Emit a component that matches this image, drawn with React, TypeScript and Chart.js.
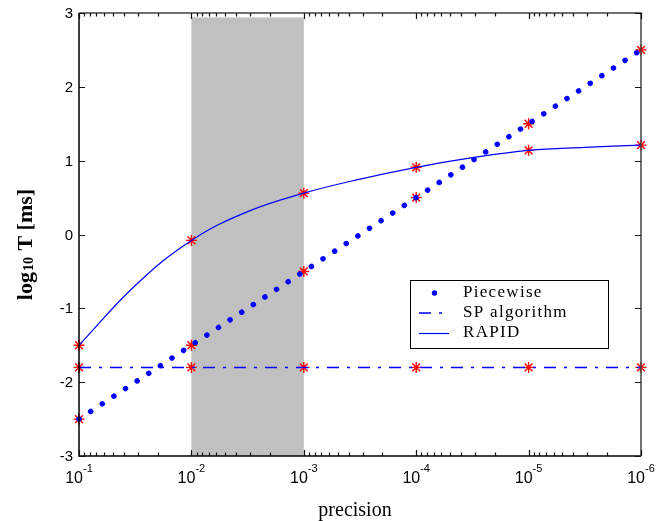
import React, { useEffect, useRef } from "react";
import { Chart, registerables } from "chart.js";
Chart.register(...registerables);

// precision values (x, reversed log axis)
const precision = [1e-1, 1e-2, 1e-3, 1e-4, 1e-5, 1e-6];
const piecewise = [-2.5, -1.5, -0.5, 0.5, 1.5, 2.5];
const spAlgorithm = [-1.8, -1.8, -1.8, -1.8, -1.8, -1.8];
const rapidMarks = [-1.5, -0.08, 0.56, 0.91, 1.14, 1.21];
// RAPID curve
const rapidCurveX = [0.1, 0.0316, 0.01, 0.00316, 0.001, 0.000316, 0.0001, 0.0000316, 0.00001, 0.00000316, 0.000001];
const rapidCurveY = [-1.5, -0.69, -0.08, 0.31, 0.56, 0.75, 0.91, 1.04, 1.14, 1.18, 1.21];

const yTicks = [3, 2, 1, 0, -1, -2, -3];
const xTickExponents = [-1, -2, -3, -4, -5, -6];
const shadeFrom = 1e-2;
const shadeTo = 1e-3;
const shadeTop = 2.94;
const legendLabels = ["Piecewise", "SP algorithm", "RAPID"];

const BLUE = "#0000ff";
const RED = "#ff0000";

const toPts = (xs: number[], ys: number[]) => xs.map((x, i) => ({ x, y: ys[i] }));

export default function App() {
  const ref = useRef<HTMLCanvasElement | null>(null);
  useEffect(() => {
    document.body.style.margin = "0";
    const canvas = ref.current!;
    const decor = {
      id: "decor",
      beforeDatasetsDraw(chart: any) {
        const { ctx, scales } = chart;
        const xs = scales.x, ys = scales.y;
        const x1 = xs.getPixelForValue(shadeFrom);
        const x2 = xs.getPixelForValue(shadeTo);
        const y1 = ys.getPixelForValue(shadeTop);
        const y2 = ys.getPixelForValue(-3);
        ctx.save();
        ctx.fillStyle = "#c0c0c0";
        ctx.fillRect(x1, y1, x2 - x1, y2 - y1);
        ctx.restore();
      },
      afterDraw(chart: any) {
        const { ctx, scales, chartArea: a } = chart;
        const xs = scales.x, ys = scales.y;
        ctx.save();
        // frame
        ctx.lineWidth = 1.5;
        ctx.strokeStyle = "#000";
        ctx.beginPath();
        ctx.moveTo(a.left, a.top);
        ctx.lineTo(a.left, a.bottom);
        ctx.lineTo(a.right, a.bottom);
        ctx.stroke();
        ctx.strokeStyle = "#444";
        ctx.beginPath();
        ctx.moveTo(a.left, a.top);
        ctx.lineTo(a.right, a.top);
        ctx.lineTo(a.right, a.bottom);
        ctx.stroke();
        // ticks
        ctx.lineWidth = 1.2;
        ctx.strokeStyle = "#111";
        ctx.beginPath();
        for (const t of yTicks) {
          const py = Math.round(ys.getPixelForValue(t)) + 0.5;
          ctx.moveTo(a.left, py); ctx.lineTo(a.left + 6, py);
          ctx.moveTo(a.right, py); ctx.lineTo(a.right - 6, py);
        }
        for (const e of xTickExponents) {
          const px = Math.round(xs.getPixelForValue(Math.pow(10, e))) + 0.5;
          ctx.moveTo(px, a.bottom); ctx.lineTo(px, a.bottom - 6);
          ctx.moveTo(px, a.top); ctx.lineTo(px, a.top + 6);
          if (e < -1) {
            for (let m = 2; m <= 9; m++) {
              const mx = Math.round(xs.getPixelForValue(m * Math.pow(10, e))) + 0.5;
              ctx.moveTo(mx, a.bottom); ctx.lineTo(mx, a.bottom - 3.5);
              ctx.moveTo(mx, a.top); ctx.lineTo(mx, a.top + 3.5);
            }
          }
        }
        ctx.stroke();
        // y tick labels
        ctx.fillStyle = "#000";
        ctx.font = "15px 'Liberation Sans', Arial, sans-serif";
        ctx.textAlign = "right";
        ctx.textBaseline = "middle";
        for (const t of yTicks) {
          ctx.fillText(String(t), a.left - 6, ys.getPixelForValue(t) + 1);
        }
        // x tick labels 10^e
        ctx.textAlign = "left";
        ctx.textBaseline = "alphabetic";
        for (const e of xTickExponents) {
          const px = xs.getPixelForValue(Math.pow(10, e));
          ctx.font = "16px 'Liberation Sans', Arial, sans-serif";
          const w1 = ctx.measureText("10").width;
          ctx.font = "11px 'Liberation Sans', Arial, sans-serif";
          const w2 = ctx.measureText(String(e)).width;
          const sx = px - (w1 + w2) / 2;
          ctx.font = "16px 'Liberation Sans', Arial, sans-serif";
          ctx.fillText("10", sx, 483);
          ctx.font = "11px 'Liberation Sans', Arial, sans-serif";
          ctx.fillText(String(e), sx + w1, 472);
        }
        // x axis title
        ctx.font = "20px 'Liberation Serif', 'Times New Roman', serif";
        ctx.textAlign = "center";
        ctx.fillText("precision", 355, 516);
        // y axis title
        ctx.save();
        ctx.translate(32, 244.5);
        ctx.rotate(-Math.PI / 2);
        ctx.textAlign = "left";
        const big = "bold 22px 'Liberation Serif', 'Times New Roman', serif";
        const small = "bold 14px 'Liberation Serif', 'Times New Roman', serif";
        ctx.font = big;
        const wLog = ctx.measureText("log").width;
        const wRest = ctx.measureText(" T [ms]").width;
        ctx.font = small;
        const wSub = ctx.measureText("10").width;
        const total = wLog + wSub + 2 + wRest;
        let u = -total / 2;
        ctx.font = big;
        ctx.fillText("log", u, 0);
        u += wLog + 1;
        ctx.font = small;
        ctx.fillText("10", u, 1);
        u += wSub + 1;
        ctx.font = big;
        ctx.fillText(" T [ms]", u, 0);
        ctx.restore();
        // legend
        const lx = 410, ly = 280, lw = 198, lh = 68;
        ctx.fillStyle = "#fff";
        ctx.fillRect(lx, ly, lw, lh);
        ctx.strokeStyle = "#000";
        ctx.lineWidth = 1;
        ctx.strokeRect(lx + 0.5, ly + 0.5, lw, lh);
        const rows = [293, 312.5, 332.5];
        // piecewise dot
        ctx.fillStyle = BLUE;
        ctx.beginPath();
        ctx.arc(434.5, rows[0], 2.7, 0, Math.PI * 2);
        ctx.fill();
        // SP dash-dot
        ctx.strokeStyle = BLUE;
        ctx.lineWidth = 1.5;
        ctx.setLineDash([12, 8, 3, 8]);
        ctx.beginPath();
        ctx.moveTo(419, rows[1] + 0.5);
        ctx.lineTo(443, rows[1] + 0.5);
        ctx.stroke();
        ctx.setLineDash([]);
        // RAPID solid
        ctx.lineWidth = 1.2;
        ctx.beginPath();
        ctx.moveTo(419, rows[2] + 1);
        ctx.lineTo(449, rows[2] + 1);
        ctx.stroke();
        ctx.fillStyle = "#000";
        ctx.font = "17px 'Liberation Serif', 'Times New Roman', serif";
        (ctx as any).letterSpacing = "1.3px";
        ctx.textAlign = "left";
        ctx.textBaseline = "middle";
        legendLabels.forEach((t, i) => ctx.fillText(t, 463, rows[i]));
        (ctx as any).letterSpacing = "0px";
        ctx.restore();
      },
    };

    const starDs = (ys: number[]) => ({
      type: "line" as const,
      data: toPts(precision, ys),
      showLine: false,
      pointStyle: "star" as const,
      pointRadius: 5.5,
      pointBorderColor: RED,
      pointBackgroundColor: RED,
      pointBorderWidth: 1.4,
      clip: false as any,
    });

    const chart = new Chart(canvas, {
      type: "line",
      data: {
        datasets: [
          {
            data: toPts(precision, piecewise),
            borderColor: BLUE,
            borderWidth: 5.4,
            borderDash: [0.1, 13.8],
            borderCapStyle: "round",
            pointRadius: 0,
            tension: 0,
            clip: 4 as any,
          },
          {
            data: toPts(precision, spAlgorithm),
            borderColor: BLUE,
            borderWidth: 1.5,
            borderDash: [12, 8, 3, 8],
            pointRadius: 0,
          },
          {
            data: toPts(rapidCurveX, rapidCurveY),
            borderColor: BLUE,
            borderWidth: 1.2,
            tension: 0.4,
            pointRadius: 0,
          },
          starDs(piecewise),
          starDs(spAlgorithm),
          starDs(rapidMarks),
        ] as any,
      },
      options: {
        responsive: false,
        maintainAspectRatio: false,
        animation: false,
        layout: { padding: { left: 79, right: 31, top: 13, bottom: 65 } },
        plugins: { legend: { display: false }, tooltip: { enabled: false } },
        scales: {
          x: { type: "logarithmic", min: 1e-6, max: 1e-1, reverse: true, display: false },
          y: { type: "linear", min: -3, max: 3, display: false },
        },
      },
      plugins: [decor],
    });
    return () => chart.destroy();
  }, []);
  return (
    <div style={{ width: 672, height: 521, background: "#fff" }}>
      <canvas ref={ref} width={672} height={521} style={{ display: "block" }} />
    </div>
  );
}
